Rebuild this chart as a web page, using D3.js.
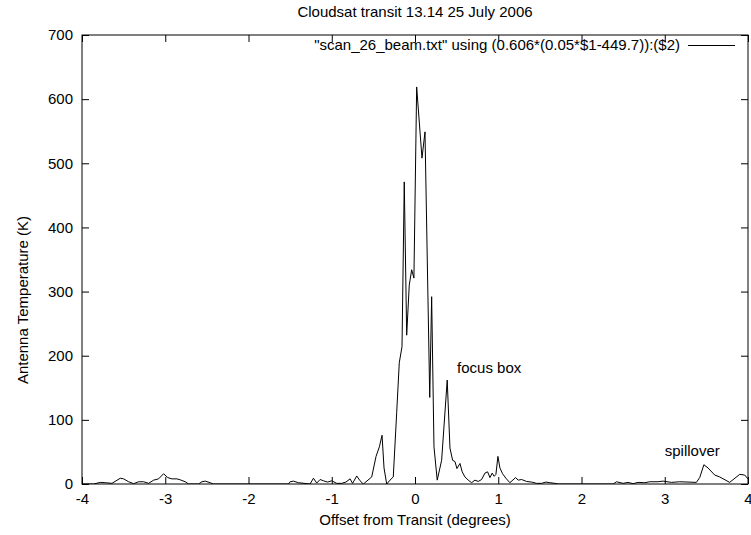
<!DOCTYPE html>
<html>
<head>
<meta charset="utf-8">
<script src="https://cdn.jsdelivr.net/npm/d3@7"></script>
<style>
  body { margin: 0; background: #fff; }
  svg text { font-family: "Liberation Sans", Arial, Helvetica, sans-serif; font-size: 15px; fill: #000; }
</style>
</head>
<body>
<svg id="chart" width="751" height="535"></svg>
<script>
// Beam scan: offset from transit (degrees) and antenna temperature (K)
const offsets = [
  -4.00, -3.86, -3.78, -3.72, -3.64, -3.54, -3.50, -3.44, -3.38, -3.32, -3.26, -3.20,
  -3.14, -3.08, -3.02, -2.97, -2.92, -2.86, -2.82, -2.76, -2.72, -2.60, -2.56, -2.52,
  -2.46, -2.42, -1.52, -1.50, -1.46, -1.40, -1.26, -1.22, -1.18, -1.14, -1.10, -1.05,
  -1.00, -0.94, -0.88, -0.83, -0.78, -0.75, -0.70, -0.66, -0.62, -0.52, -0.468, -0.428,
  -0.396, -0.372, -0.34, -0.30, -0.261, -0.22, -0.189, -0.156, -0.129, -0.10, -0.069, -0.04,
  -0.013, 0.02, 0.084, 0.12, 0.177, 0.20, 0.228, 0.267, 0.32, 0.387, 0.42, 0.452,
  0.48, 0.504, 0.54, 0.567, 0.60, 0.64, 0.68, 0.72, 0.76, 0.80, 0.84, 0.872,
  0.90, 0.927, 0.951, 0.972, 0.996, 1.02, 1.052, 1.092, 1.14, 1.208, 1.24, 1.28,
  1.34, 1.40, 1.46, 1.52, 1.572, 1.62, 1.68, 1.72, 2.38, 2.42, 2.50, 2.56,
  2.62, 2.68, 2.76, 2.82, 2.92, 2.98, 3.08, 3.18, 3.28, 3.38, 3.42, 3.47,
  3.52, 3.60, 3.66, 3.78, 3.90, 3.96, 4.00
];
const temperatures = [
  0, 0, 2.5, 2, 1, 9, 8, 3.5, 0.5, 3.5, 3.5, 1,
  6, 8, 16, 10, 8, 8, 6.5, 3.5, 0, 0, 3.5, 4.5,
  2, 0, 0, 3.5, 4.5, 2, 0, 9, 1.5, 7, 5, 3,
  5, 1, 1, 3, 8, 1, 12.5, 5, 0, 11, 43, 58,
  76, 25, 0, 6, 11, 111, 189, 214, 471, 232, 310, 334,
  321, 619, 508, 549, 135, 292, 58, 6, 37, 162, 56, 37,
  35, 24, 32, 19, 11, 6, 2, 6, 4, 7, 17, 19,
  10, 17, 12, 15, 43, 25, 16, 9, 2, 10, 6, 7,
  4, 3, 1, 1, 3, 2, 1, 0, 0, 3.5, 1, 2.5,
  0.5, 2.5, 2, 3.5, 3.5, 4.5, 2.5, 3.5, 3, 2.5, 10, 30,
  25, 14, 11, 2.5, 15, 14, 8
];

const xTicks = [-4, -3, -2, -1, 0, 1, 2, 3, 4];
const yTicks = [0, 100, 200, 300, 400, 500, 600, 700];

const titleText = "Cloudsat transit 13.14 25 July 2006";
const xLabel = "Offset from Transit (degrees)";
const yLabel = "Antenna Temperature (K)";
const legendText = "\"scan_26_beam.txt\" using (0.606*(0.05*$1-449.7)):($2)";
const notes = [
  { text: "focus box", x: 0.505, y: 173 },
  { text: "spillover", x: 3.0, y: 44 }
];

const svg = d3.select("#chart");
const margin = { left: 82, right: 3, top: 35, bottom: 51 };
const W = 751, H = 535;
const pw = W - margin.left - margin.right;
const ph = H - margin.top - margin.bottom;

const x = d3.scaleLinear().domain([-4, 4]).range([0, pw]);
const y = d3.scaleLinear().domain([0, 700]).range([ph, 0]);

const g = svg.append("g").attr("transform", `translate(${margin.left},${margin.top})`);

svg.append("defs").append("clipPath").attr("id", "plotclip")
  .append("rect").attr("width", pw).attr("height", ph);

// Data trace
const pts = offsets.map((d, i) => [d, temperatures[i]]);
g.append("path")
  .datum(pts)
  .attr("clip-path", "url(#plotclip)")
  .attr("fill", "none")
  .attr("stroke", "#000")
  .attr("stroke-width", 1)
  .attr("stroke-linejoin", "miter")
  .attr("d", d3.line().x(d => x(d[0])).y(d => y(d[1])));

// Axes with inward ticks on all four sides; plain hyphen for negatives
const fmt = d => String(d);
function styleAxis(sel) {
  sel.select(".domain").remove();
  sel.selectAll(".tick line").attr("stroke", "#000").attr("stroke-width", 1);
  sel.selectAll(".tick text").attr("font-size", 15).attr("font-family", null);
}
g.append("g").attr("transform", `translate(0,${ph})`)
  .call(d3.axisBottom(x).tickValues(xTicks).tickFormat(fmt).tickSize(-7).tickPadding(9))
  .call(styleAxis);
g.append("g")
  .call(d3.axisTop(x).tickValues(xTicks).tickFormat("").tickSize(-7))
  .call(styleAxis);
g.append("g")
  .call(d3.axisLeft(y).tickValues(yTicks).tickFormat(fmt).tickSize(-7).tickPadding(9))
  .call(styleAxis);
g.append("g").attr("transform", `translate(${pw},0)`)
  .call(d3.axisRight(y).tickValues(yTicks).tickFormat("").tickSize(-7))
  .call(styleAxis);

// Frame
g.append("rect").attr("width", pw).attr("height", ph)
  .attr("fill", "none").attr("stroke", "#000").attr("stroke-width", 1);

// Title and axis labels
svg.append("text").attr("x", margin.left + pw / 2).attr("y", 17)
  .attr("text-anchor", "middle").text(titleText);
svg.append("text").attr("x", margin.left + pw / 2).attr("y", 525)
  .attr("text-anchor", "middle").text(xLabel);
svg.append("text")
  .attr("transform", `translate(28,300) rotate(-90)`)
  .attr("text-anchor", "middle").text(yLabel);

// Key
g.append("text").attr("x", 598).attr("y", 15).attr("text-anchor", "end").text(legendText);
g.append("line").attr("x1", 606).attr("x2", 653).attr("y1", 10.5).attr("y2", 10.5)
  .attr("stroke", "#000").attr("stroke-width", 1);

// Annotations
notes.forEach(n => {
  g.append("text").attr("x", x(n.x)).attr("y", y(n.y)).text(n.text);
});
</script>
</body>
</html>
